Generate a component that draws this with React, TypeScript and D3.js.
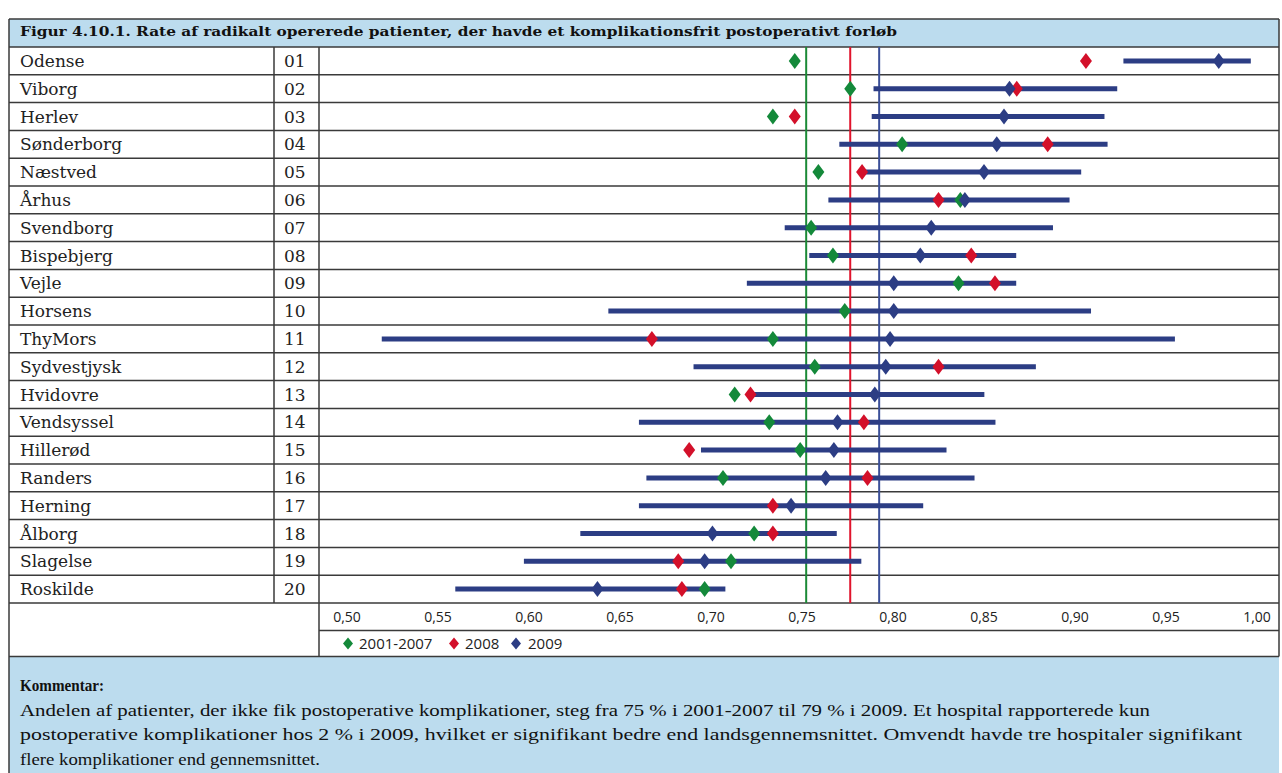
import React from "react";
import * as d3 from "d3";

const hospitals = ["Odense","Viborg","Herlev","Sønderborg","Næstved","Århus","Svendborg","Bispebjerg","Vejle","Horsens","ThyMors","Sydvestjysk","Hvidovre","Vendsyssel","Hillerød","Randers","Herning","Ålborg","Slagelse","Roskilde"];
const codes = ["01","02","03","04","05","06","07","08","09","10","11","12","13","14","15","16","17","18","19","20"];
const rate2001_2007: (number | null)[] = [0.746,0.7765,0.734,0.805,0.759,0.837,0.755,0.767,0.836,0.7735,0.734,0.757,0.713,0.732,0.749,0.7066,null,0.7237,0.711,0.6965];
const rate2008: (number | null)[] = [0.906,0.868,0.746,0.885,0.783,0.825,null,0.843,0.856,null,0.6675,0.825,0.7217,0.784,0.688,0.786,0.734,0.734,0.682,0.684];
const rate2009 = [0.979,0.864,0.861,0.857,0.850,0.8395,0.821,0.815,0.8004,0.8004,0.7984,0.796,0.790,0.7695,0.7675,0.763,0.744,0.7008,0.6965,0.6376];
const ciLow2009 = [0.9266,0.7893,0.7883,0.7705,0.7813,0.7645,0.7405,0.754,0.7197,0.6436,0.5191,0.6904,0.7217,0.6604,0.6945,0.6645,0.6604,0.6282,0.5972,0.5595];
const ciHigh2009 = [0.9966,0.9232,0.9162,0.9179,0.9034,0.897,0.8879,0.8677,0.8677,0.9088,0.9549,0.8785,0.8502,0.8563,0.8294,0.8448,0.8166,0.7691,0.7826,0.7079];
const avgRates = [0.7523, 0.7765, 0.7924];
const seriesNames = ["2001-2007", "2008", "2009"];
const tickValues = [0.5,0.55,0.6,0.65,0.7,0.75,0.8,0.85,0.9,0.95,1.0];

const title = "Figur 4.10.1. Rate af radikalt opererede patienter, der havde et komplikationsfrit postoperativt forløb";
const commentHead = "Kommentar:";
const commentLines = [
  "Andelen af patienter, der ikke fik postoperative komplikationer, steg fra 75 % i 2001-2007 til 79 % i 2009. Et hospital rapporterede kun",
  "postoperative komplikationer hos 2 % i 2009, hvilket er signifikant bedre end landsgennemsnittet. Omvendt havde tre hospitaler signifikant",
  "flere komplikationer end gennemsnittet.",
];
const commentWidths = [1130, 1222, 300];

const colors = ["#14893a", "#d3102a", "#2c3d84"];
const lineColors = ["#1b8a36", "#e0142c", "#3a4f98"];

export default function App() {
  const W = 1282, H = 773;
  const left = 9, right = 1279;
  const colName = 274, colNum = 319;
  const titleTop = 19, rowsTop = 47, rowH = 27.8;
  const n = hospitals.length;
  const rowsBottom = rowsTop + n * rowH;
  const axisBottom = rowsBottom + 27.5;
  const legendBottom = axisBottom + 26;

  const x = d3.scaleLinear().domain([0.5, 1.0]).range([347, 1257]);
  const y = d3.scaleBand<number>().domain(d3.range(n)).range([rowsTop, rowsBottom]);
  const fmt = (v: number) => d3.format(".2f")(v).replace(".", ",");

  const diamond = (cx: number, cy: number, w: number, h: number) =>
    `M${cx},${cy - h / 2}L${cx + w / 2},${cy}L${cx},${cy + h / 2}L${cx - w / 2},${cy}Z`;

  const serif = "'DejaVu Serif', serif";
  const sans = "'Open Sans', 'Liberation Sans', sans-serif";
  const lineCol = "#3a3a3a";

  const series = [rate2001_2007, rate2008, rate2009];

  return (
    <svg width={W} height={H} style={{ position: "absolute", left: 0, top: 0, background: "#fff" }}>
      {/* title bar */}
      <rect x={left} y={titleTop} width={right - left} height={rowsTop - titleTop} fill="#bcdcee" />
      <text x={20} y={titleTop + 17} fontFamily={serif} fontWeight="bold" fontSize={13.2} fill="#111" textLength={877} lengthAdjust="spacingAndGlyphs">{title}</text>
      {/* comment box */}
      <rect x={left} y={legendBottom} width={right - left} height={H - legendBottom + 2} fill="#bcdcee" />
      <text x={20} y={legendBottom + 34} fontFamily={"'Liberation Serif', serif"} fontWeight="bold" fontSize={17} fill="#111" textLength={84} lengthAdjust="spacingAndGlyphs">{commentHead}</text>
      {commentLines.map((t, i) => (
        <text key={i} x={20} y={legendBottom + 59 + i * 24.5} fontFamily={"'Liberation Serif', serif"} fontSize={17} fill="#111" textLength={commentWidths[i]} lengthAdjust="spacingAndGlyphs">{t}</text>
      ))}

      {/* rows */}
      {hospitals.map((h, i) => {
        const cy = (y(i) as number) + y.bandwidth() / 2;
        return (
          <g key={h}>
            <text x={20} y={cy + 6} fontFamily={serif} fontSize={17} fill="#222">{h}</text>
            <text x={284} y={cy + 6} fontFamily={serif} fontSize={17} fill="#222">{codes[i]}</text>
          </g>
        );
      })}

      {/* horizontal grid */}
      {d3.range(n + 1).map((i) => (
        <line key={i} x1={left} x2={right} y1={rowsTop + i * rowH} y2={rowsTop + i * rowH} stroke={lineCol} strokeWidth={1.5} />
      ))}
      <line x1={colNum} x2={right} y1={axisBottom} y2={axisBottom} stroke={lineCol} strokeWidth={1.5} />
      <line x1={left} x2={right} y1={legendBottom} y2={legendBottom} stroke={lineCol} strokeWidth={1.5} />
      <line x1={left} x2={right} y1={titleTop} y2={titleTop} stroke={lineCol} strokeWidth={1.5} />
      {/* vertical lines */}
      <line x1={left} x2={left} y1={titleTop} y2={H} stroke={lineCol} strokeWidth={1.5} />
      <line x1={right} x2={right} y1={titleTop} y2={legendBottom} stroke={lineCol} strokeWidth={1.5} />
      <line x1={colName} x2={colName} y1={rowsTop} y2={rowsBottom} stroke={lineCol} strokeWidth={1.5} />
      <line x1={colNum} x2={colNum} y1={rowsTop} y2={legendBottom} stroke={lineCol} strokeWidth={1.5} />

      {/* average lines */}
      {avgRates.map((v, k) => (
        <line key={k} x1={x(v)} x2={x(v)} y1={rowsTop} y2={rowsBottom} stroke={lineColors[k]} strokeWidth={2} />
      ))}

      {/* CI bars */}
      {hospitals.map((h, i) => {
        const cy = (y(i) as number) + y.bandwidth() / 2;
        return <line key={h} x1={x(ciLow2009[i])} x2={x(ciHigh2009[i])} y1={cy} y2={cy} stroke={colors[2]} strokeWidth={5} />;
      })}

      {/* markers */}
      {series.map((s, k) =>
        s.map((v, i) => {
          if (v == null) return null;
          const cy = (y(i) as number) + y.bandwidth() / 2;
          return <path key={`${k}-${i}`} d={diamond(x(v), cy, 12, 16)} fill={colors[k]} />;
        })
      )}

      {/* axis tick labels */}
      {tickValues.map((t) => (
        <text key={t} x={x(t)} y={rowsBottom + 19} textAnchor="middle" fontFamily={sans} fontSize={14} fill="#222">{fmt(t)}</text>
      ))}

      {/* legend */}
      {(() => {
        const ly = axisBottom + 13;
        const items = [{ dx: 348, tx: 359 }, { dx: 454, tx: 465 }, { dx: 516, tx: 528 }];
        return items.map((it, k) => (
          <g key={k}>
            <path d={diamond(it.dx, ly, 10, 12)} fill={colors[k]} />
            <text x={it.tx} y={ly + 5} fontFamily={sans} fontSize={15} fill="#222">{seriesNames[k]}</text>
          </g>
        ));
      })()}
    </svg>
  );
}
